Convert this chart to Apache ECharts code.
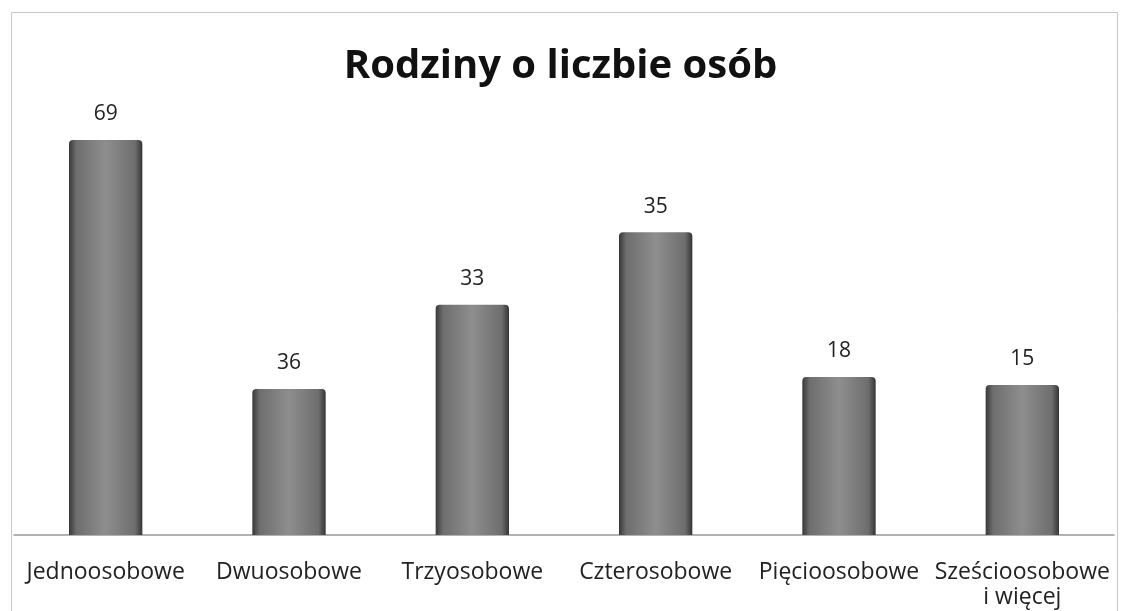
<!DOCTYPE html>
<html><head><meta charset="utf-8">
<script src="https://cdn.jsdelivr.net/npm/echarts@6/dist/echarts.min.js"></script>
<style>html,body{margin:0;padding:0;background:#fff}#c{width:1121px;height:611px}</style>
</head><body><div id="c"></div>
<script>
const title = 'Rodziny o liczbie osób';
const categories = ['Jednoosobowe','Dwuosobowe','Trzyosobowe','Czterosobowe','Pięcioosobowe','Sześcioosobowe\ni więcej'];
// printed data labels
const valueLabels = [69, 36, 33, 35, 18, 15];
// bar heights as drawn in the picture (same units as the 69 bar)
const barHeights = [69, 25.5, 40.2, 52.9, 27.6, 26.2];

const chart = echarts.init(document.getElementById('c'));
const barColor = {type:'linear',x:0,y:0,x2:1,y2:0,colorStops:[
  {offset:0,color:'#383838'},{offset:0.1,color:'#6e6e6e'},{offset:0.5,color:'#8e8e8e'},{offset:0.9,color:'#6e6e6e'},{offset:1,color:'#353535'}]};
chart.setOption({
  backgroundColor:'#fff',
  graphic:[{type:'rect',shape:{x:11.5,y:12.5,width:1106,height:600},style:{fill:'none',stroke:'#c8c8c8',lineWidth:1},silent:true}],
  title:{text:title,left:'center',top:42,textStyle:{fontFamily:'Open Sans',fontWeight:'bold',fontSize:40,color:'#111'}},
  grid:{left:14,right:7,top:77,bottom:76,containLabel:false},
  xAxis:{type:'category',data:categories,
    axisLine:{lineStyle:{color:'#999',width:1.5}},axisTick:{show:false},
    axisLabel:{interval:0,margin:25,fontFamily:'Open Sans',fontSize:23,color:'#222',lineHeight:25}},
  yAxis:{type:'value',min:0,max:80,show:false,splitLine:{show:false}},
  series:[{type:'bar',barWidth:'40%',
    data:barHeights.map((h,i)=>({value:h,label:{formatter:String(valueLabels[i])}})),
    itemStyle:{color:barColor,borderRadius:[4,4,0,0]},
    label:{show:true,position:'top',distance:15,fontFamily:'Open Sans',fontSize:21,color:'#222'}}]
});
</script></body></html>
